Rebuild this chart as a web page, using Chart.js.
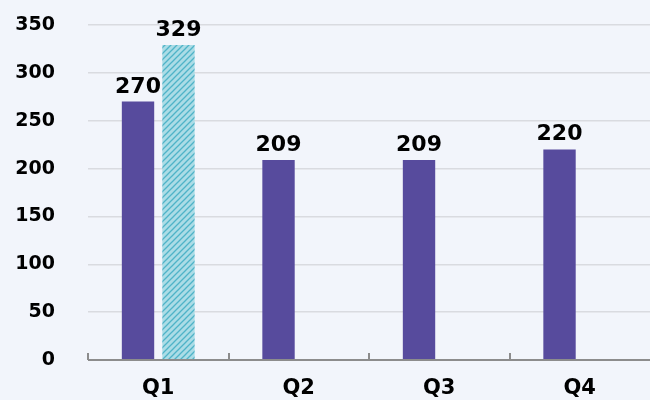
<!DOCTYPE html>
<html>
<head>
<meta charset="utf-8">
<script src="https://cdn.jsdelivr.net/npm/chart.js@4"></script>
<style>
  html, body { margin:0; padding:0; background:#F2F5FB; }
  #wrap { width:650px; height:400px; }
</style>
</head>
<body>
<div id="wrap"><canvas id="chart"></canvas></div>
<script>
const categories = ["Q1", "Q2", "Q3", "Q4"];
const mainValues = [270, 209, 209, 220];
const extraValues = [329, null, null, null];
const yTicks = [0, 50, 100, 150, 200, 250, 300, 350];

const fontFamily = "'DejaVu Sans', Verdana, sans-serif";

// Hatched fill for the second series
function makeHatch(){
  const c = document.createElement("canvas");
  c.width = 6; c.height = 6;
  const g = c.getContext("2d");
  g.fillStyle = "#ABDCE6";
  g.fillRect(0, 0, 6, 6);
  g.strokeStyle = "#4FB3C8";
  g.lineWidth = 1.3;
  g.beginPath();
  g.moveTo(0, 6); g.lineTo(6, 0);
  g.moveTo(-3, 3); g.lineTo(3, -3);
  g.moveTo(3, 9); g.lineTo(9, 3);
  g.stroke();
  return g.createPattern(c, "repeat");
}

// Value labels above bars
const barLabels = {
  id: "barLabels",
  afterDatasetsDraw(chart){
    const ctx = chart.ctx;
    ctx.save();
    ctx.font = "bold 22px " + fontFamily;
    ctx.fillStyle = "#000";
    ctx.textAlign = "center";
    ctx.textBaseline = "alphabetic";
    chart.data.datasets.forEach((ds, i) => {
      const meta = chart.getDatasetMeta(i);
      meta.data.forEach((bar, j) => {
        if(ds.data[j] == null) return;
        ctx.fillText(ds.data[j], bar.x, bar.y - 9);
      });
    });
    ctx.restore();
  }
};

// Axis line with small ticks between categories, pointing up
const axisTicks = {
  id: "axisTicks",
  afterDraw(chart){
    const x = chart.scales.x, area = chart.chartArea, ctx = chart.ctx;
    const step = x.getPixelForValue(1) - x.getPixelForValue(0);
    ctx.save();
    ctx.strokeStyle = "#8C8C8C";
    ctx.lineWidth = 2;
    ctx.beginPath();
    ctx.moveTo(area.left, area.bottom);
    ctx.lineTo(area.right, area.bottom);
    for(let i = 0; i < categories.length; i++){
      const px = Math.round(x.getPixelForValue(i) - step / 2);
      ctx.moveTo(px, area.bottom);
      ctx.lineTo(px, area.bottom - 7);
    }
    ctx.stroke();
    ctx.restore();
  }
};

new Chart(document.getElementById("chart"), {
  type: "bar",
  data: {
    labels: categories,
    datasets: [
      { data: mainValues, backgroundColor: "#574B9D", barPercentage: 0.8, categoryPercentage: 0.576 },
      { data: extraValues, backgroundColor: makeHatch(), barPercentage: 0.8, categoryPercentage: 0.576 }
    ]
  },
  options: {
    responsive: true,
    maintainAspectRatio: false,
    animation: false,
    layout: { padding: { top: 25, right: 0, left: 0, bottom: 0 } },
    plugins: { legend: { display: false }, tooltip: { enabled: false } },
    scales: {
      x: {
        grid: { display: false },
        border: { display: false },
        ticks: { color: "#000", font: { family: fontFamily, size: 21, weight: "bold" }, padding: 8 },
        afterFit(scale){ scale.height = 40; scale.paddingLeft = 0; scale.paddingRight = 0; }
      },
      y: {
        min: 0, max: 350,
        afterBuildTicks(scale){ scale.ticks = yTicks.map(v => ({ value: v })); },
        grid: { color: "#D9DBE0", lineWidth: 1.5, drawTicks: true, tickLength: 33, tickColor: "rgba(0,0,0,0)" },
        border: { display: false },
        ticks: { color: "#000", font: { family: fontFamily, size: 19, weight: "bold" }, padding: 0 },
        afterFit(scale){ scale.width = 88; scale.paddingTop = 0; scale.paddingBottom = 0; }
      }
    }
  },
  plugins: [barLabels, axisTicks]
});
</script>
</body>
</html>
